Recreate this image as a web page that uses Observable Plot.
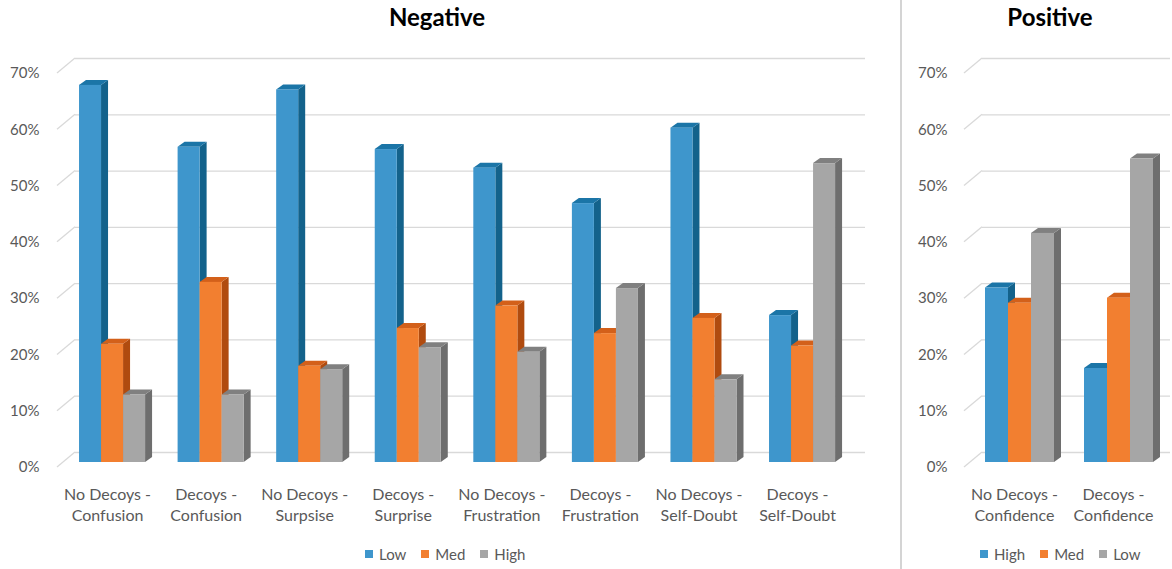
<!DOCTYPE html>
<html>
<head>
<meta charset="utf-8">
<script src="https://cdn.jsdelivr.net/npm/d3@7"></script>
<script src="https://cdn.jsdelivr.net/npm/@observablehq/plot@0.6"></script>
<style>
  html, body { margin: 0; padding: 0; background: #fff; }
  #chart { position: relative; width: 1172px; height: 569px; overflow: hidden;
           font-family: Lato, "Noto Sans", sans-serif; color: #595959; }
  .panel { position: absolute; top: 0; }
  .title { position: absolute; top: 5px; font-size: 24px; line-height: 24px; font-weight: 700;
           color: #000; transform: translateX(-50%); white-space: nowrap; }
  .divider { position: absolute; left: 900px; top: 0; width: 2px; height: 569px; background: #d4d4d4; }
  .legend { position: absolute; top: 546px; height: 16px; display: flex; align-items: center;
            font-size: 15px; line-height: 16px; color: #595959; white-space: nowrap; }
  .legend .item { display: flex; align-items: center; margin-right: 15px; }
  .legend .sw { width: 8px; height: 8px; margin-right: 6px; }
</style>
</head>
<body>
<div id="chart"></div>
<script>
// ---- data ---------------------------------------------------------------
const negCategories = [
  "No Decoys -\nConfusion", "Decoys -\nConfusion",
  "No Decoys -\nSurpsise", "Decoys -\nSurprise",
  "No Decoys -\nFrustration", "Decoys -\nFrustration",
  "No Decoys -\nSelf-Doubt", "Decoys -\nSelf-Doubt"
];
const negLevels = ["Low", "Med", "High"];
const negLow  = [0.670, 0.560, 0.662, 0.556, 0.523, 0.460, 0.594, 0.261];
const negMed  = [0.210, 0.320, 0.171, 0.238, 0.278, 0.229, 0.256, 0.207];
const negHigh = [0.120, 0.120, 0.165, 0.204, 0.196, 0.309, 0.147, 0.531];

const posCategories = ["No Decoys -\nConfidence", "Decoys -\nConfidence"];
const posLevels = ["High", "Med", "Low"];
const posHigh = [0.310, 0.167];
const posMed  = [0.283, 0.292];
const posLow  = [0.407, 0.539];

const yTicks = [0, 0.1, 0.2, 0.3, 0.4, 0.5, 0.6, 0.7];

// ---- styling ------------------------------------------------------------
const BLUE   = {front: "#3e96cc", side: "#13628b", top: "#1b75a7"};
const ORANGE = {front: "#f27f30", side: "#b04b0f", top: "#d3601a"};
const GRAY   = {front: "#a6a6a6", side: "#6e6e6e", top: "#808080"};
const GRID = "#d9d9d9";
const TEXT = "#595959";
const FONT = "Lato, 'Noto Sans', sans-serif";

const DEPTH_X = 7, DEPTH_Y = 5;   // projected depth of a bar
const WALL_X = 18;                // floor depth, horizontal
const FRONT_DY = 5, BACK_DY = 10; // floor front / back wall relative to bar fronts
const HEIGHT = 530;
const Y_RANGE = [462, 68];

// Side and top faces of one series of 3D columns, drawn from the plot scales.
function columnFaces(rows, slot, colors) {
  return (index, scales) => {
    const x = scales.x, y = scales.y;
    const bw = typeof x.bandwidth === "function" ? x.bandwidth() : scales.scales.x.bandwidth;
    const w = bw / 3;
    const g = d3.create("svg:g");
    for (const d of rows) {
      const x0 = x(d.category) + slot * w, x1 = x0 + w;
      const yt = y(d.value), yb = y(0);
      g.append("path").attr("fill", colors.side)
        .attr("d", `M${x1},${yt}L${x1 + DEPTH_X},${yt - DEPTH_Y}L${x1 + DEPTH_X},${yb - DEPTH_Y}L${x1},${yb}Z`);
      g.append("path").attr("fill", colors.top)
        .attr("d", `M${x0},${yt}L${x0 + DEPTH_X},${yt - DEPTH_Y}L${x1 + DEPTH_X},${yt - DEPTH_Y}L${x1},${yt}Z`);
    }
    return g.node();
  };
}

// Slanted floor edges joining each tick label to its back-wall gridline.
function wallEdges(ticks) {
  return (index, scales, values, dims) => {
    const y = scales.y;
    const xb = dims.marginLeft, xf = xb - WALL_X;
    const g = d3.create("svg:g").attr("stroke", GRID).attr("stroke-width", 1.3).attr("fill", "none");
    for (const t of ticks) {
      g.append("path").attr("d", `M${xf},${y(t) + FRONT_DY}L${xb},${y(t) - BACK_DY}`);
    }
    return g.node();
  };
}

function panel({categories, levels, series, palette, width, xRange, padding, marginLeft, marginRight, tickDx, labelDx}) {
  const band = d3.scaleBand(categories, xRange).padding(padding);
  const w = band.bandwidth() / 3;
  const marks = [
    Plot.ruleY(yTicks, {y: d => d, dy: -BACK_DY, stroke: GRID, strokeWidth: 1.3}),
    wallEdges(yTicks),
    Plot.text(yTicks, {
      y: d => d, text: d => `${Math.round(d * 100)}%`, frameAnchor: "left",
      textAnchor: "end", dx: tickDx, dy: FRONT_DY, fill: TEXT, fontSize: 15
    })
  ];
  levels.forEach((level, i) => {
    const rows = categories.map((category, j) => ({category, level, value: series[i][j]}));
    marks.push(columnFaces(rows, i, palette[i]));
    marks.push(Plot.barY(rows, {
      x: "category", y1: 0, y2: "value", fill: palette[i].front,
      insetLeft: i * w, insetRight: (levels.length - 1 - i) * w
    }));
  });
  marks.push(Plot.text(categories, {
    x: d => d, y: () => 0, text: d => d, lineAnchor: "top", lineHeight: 1.3,
    dx: labelDx, dy: 23, fill: TEXT, fontSize: 16
  }));
  return Plot.plot({
    width, height: HEIGHT,
    marginLeft, marginRight, marginTop: 0, marginBottom: 0,
    x: {domain: categories, range: xRange, padding, round: false, axis: null},
    y: {domain: [0, 0.7], range: Y_RANGE, axis: null},
    style: {background: "transparent", fontFamily: FONT, overflow: "visible"},
    marks
  });
}

const chart = document.getElementById("chart");

const neg = panel({
  categories: negCategories, levels: negLevels,
  series: [negLow, negMed, negHigh], palette: [BLUE, ORANGE, GRAY],
  width: 900, xRange: [46.5, 867.6], padding: 0.33,
  marginLeft: 75, marginRight: 35, tickDx: -36, labelDx: -5
});
neg.classList.add("panel");
neg.style.left = "0px";
chart.appendChild(neg);

const pos = panel({
  categories: posCategories, levels: posLevels,
  series: [posHigh, posMed, posLow], palette: [BLUE, ORANGE, GRAY],
  width: 270, xRange: [53, 281], padding: 0.303,
  marginLeft: 80, marginRight: 2, tickDx: -35, labelDx: -5.5
});
pos.classList.add("panel");
pos.style.left = "902px";
chart.appendChild(pos);

// titles, divider, legends
function addTitle(text, cx) {
  const el = document.createElement("div");
  el.className = "title";
  el.textContent = text;
  el.style.left = cx + "px";
  chart.appendChild(el);
}
addTitle("Negative", 437);
addTitle("Positive", 1050);

const divider = document.createElement("div");
divider.className = "divider";
chart.appendChild(divider);

function addLegend(levels, palette, left) {
  const el = document.createElement("div");
  el.className = "legend";
  el.style.left = left + "px";
  levels.forEach((level, i) => {
    const item = document.createElement("div");
    item.className = "item";
    const sw = document.createElement("span");
    sw.className = "sw";
    sw.style.background = palette[i].front;
    const label = document.createElement("span");
    label.textContent = level;
    item.append(sw, label);
    el.appendChild(item);
  });
  chart.appendChild(el);
}
addLegend(negLevels, [BLUE, ORANGE, GRAY], 365);
addLegend(posLevels, [BLUE, ORANGE, GRAY], 980);
</script>
</body>
</html>
